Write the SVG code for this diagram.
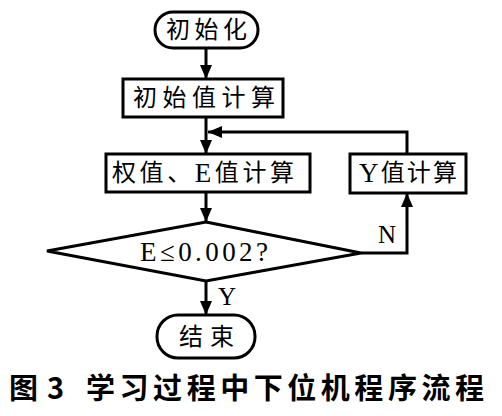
<svg xmlns="http://www.w3.org/2000/svg" width="502" height="416" viewBox="0 0 502 416">
<style>
.shape{fill:#fff;stroke:#000;stroke-width:3}
.conn{fill:none;stroke:#000;stroke-width:3}
.t{font-family:"Liberation Serif","Noto Sans CJK SC",serif;font-size:24px;fill:#000;dominant-baseline:central}
.lat{font-size:27px}
.lbl{font-family:"Liberation Serif",serif;font-size:25px;fill:#000;dominant-baseline:central}
.cap{font-family:"Noto Sans CJK SC",sans-serif;font-size:29px;font-weight:bold;fill:#000}
</style>
<defs>
<marker id="arr" markerUnits="userSpaceOnUse" markerWidth="14" markerHeight="12" refX="14" refY="6" orient="auto">
<path d="M0,0 L14,6 L0,12 z" fill="#000"/>
</marker>
</defs>
<rect width="502" height="416" fill="#fff"/>
<g id="connectors">
<path class="conn" d="M206,48 V79" marker-end="url(#arr)"/>
<path class="conn" d="M206,117 V154" marker-end="url(#arr)"/>
<path class="conn" d="M206,192 V222" marker-end="url(#arr)"/>
<path class="conn" d="M361,253 H407 V193" marker-end="url(#arr)"/>
<path class="conn" d="M407,154 V132 H208" marker-end="url(#arr)"/>
<path class="conn" d="M206,280 V315" marker-end="url(#arr)"/>
<text class="lbl" x="378" y="234">N</text>
<text class="lbl" x="218" y="296">Y</text>
</g>
<g id="start">
<rect class="shape" x="155" y="12" width="103" height="36" rx="18"/>
<text class="t" x="166" y="30" textLength="81" lengthAdjust="spacing">初始化</text>
</g>
<g id="init-calc">
<rect class="shape" x="123" y="79" width="160" height="38"/>
<text class="t" x="133" y="98" textLength="142" lengthAdjust="spacing">初始值计算</text>
</g>
<g id="weight-calc">
<rect class="shape" x="106" y="154" width="204" height="38"/>
<text class="t" x="112" y="173" textLength="182" lengthAdjust="spacing">权值、<tspan class="lat">E</tspan>值计算</text>
</g>
<g id="y-calc">
<rect class="shape" x="350" y="154" width="116" height="39"/>
<text class="t" x="359" y="173" textLength="98" lengthAdjust="spacing"><tspan class="lat">Y</tspan>值计算</text>
</g>
<g id="decision">
<polygon class="shape" points="206,222 361,253 206,281 47,251"/>
<text class="t lat" x="140" y="252" textLength="128" lengthAdjust="spacing">E≤0.002?</text>
</g>
<g id="end">
<rect class="shape" x="157" y="315" width="98" height="43" rx="21"/>
<text class="t" x="179" y="337" textLength="55" lengthAdjust="spacing">结束</text>
</g>
<text class="cap" y="399"><tspan x="9">图</tspan><tspan x="47">3</tspan><tspan x="86" textLength="398" lengthAdjust="spacing">学习过程中下位机程序流程</tspan></text>
</svg>
